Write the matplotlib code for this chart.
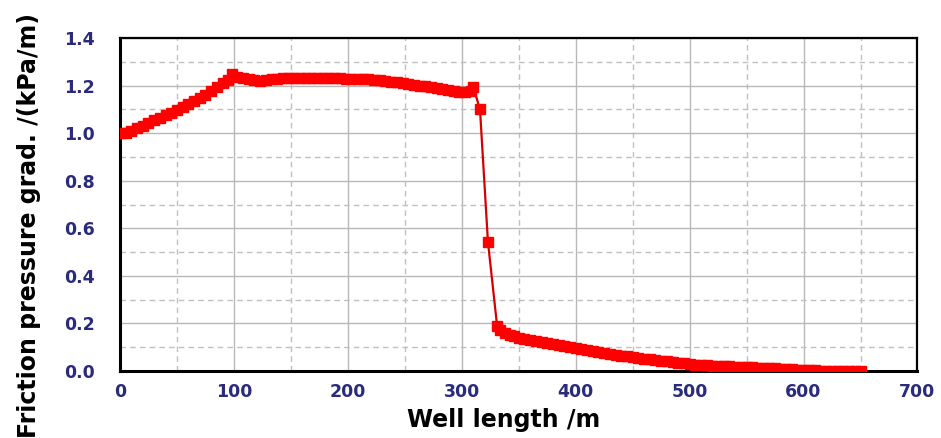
import matplotlib
matplotlib.use('Agg')
import matplotlib.pyplot as plt
from matplotlib.ticker import MultipleLocator

# well length (m) and friction pressure gradient (kPa/m)
length = [0, 5, 10, 15, 20, 25, 30, 35, 40, 45, 50, 55, 60, 65, 70, 75, 80, 85, 90, 95,
          98,
          103, 108, 113, 118, 123, 128, 133, 138, 143, 148, 153, 158, 163, 168, 173, 178,
          183, 188, 193, 198, 203, 208, 213, 218, 223, 228, 233, 238, 243, 248, 253, 258,
          263, 268, 273, 278, 283, 288, 293, 298, 303, 308,
          310, 316, 323, 331, 334, 338, 342, 346,
          350, 355, 360, 365, 370, 375, 380, 385, 390, 395, 400, 405, 410, 415, 420, 425,
          430, 435, 440, 445, 450, 455, 460, 465, 470, 475, 480, 485, 490, 495, 500, 505,
          510, 515, 520, 525, 530, 535, 540, 545, 550, 555, 560, 565, 570, 575, 580, 585,
          590, 595, 600, 605, 610, 615, 620, 625, 630, 635, 640, 645, 650]
grad = [1.000, 1.003, 1.010, 1.020, 1.030, 1.042, 1.055, 1.065, 1.075, 1.085, 1.098, 1.110,
        1.122, 1.135, 1.148, 1.162, 1.178, 1.195, 1.212, 1.225,
        1.250,
        1.238, 1.232, 1.228, 1.224, 1.221, 1.225, 1.228, 1.230, 1.231, 1.231, 1.232, 1.232,
        1.232, 1.232, 1.232, 1.232, 1.232, 1.231, 1.231, 1.230, 1.229, 1.228, 1.227, 1.226,
        1.224, 1.222, 1.220, 1.217, 1.214, 1.211, 1.208, 1.204, 1.200, 1.197, 1.193, 1.189,
        1.184, 1.180, 1.176, 1.173, 1.172, 1.176,
        1.196, 1.100, 0.542, 0.190, 0.172, 0.160, 0.152, 0.146,
        0.140, 0.136, 0.132, 0.128, 0.123, 0.118, 0.113, 0.109, 0.104, 0.100, 0.096, 0.092,
        0.088, 0.084, 0.080, 0.076, 0.072, 0.069, 0.065, 0.062, 0.058, 0.055, 0.052, 0.049,
        0.046, 0.043, 0.040, 0.037, 0.034, 0.032, 0.029, 0.027, 0.025, 0.024, 0.022, 0.021,
        0.020, 0.019, 0.018, 0.017, 0.016, 0.015, 0.014, 0.013, 0.012, 0.011, 0.009, 0.008,
        0.007, 0.006, 0.005, 0.004, 0.003, 0.002, 0.002, 0.001, 0.001, 0.001, 0.000, 0.000,
        0.000]

tick_color = '#2b2b7d'

fig = plt.figure(figsize=(9.41, 4.38), dpi=100)
ax = fig.add_axes([0.1275, 0.153, 0.8475, 0.760])

ax.plot(length, grad, color='#d40000', lw=1.6, marker='s', ms=6.5,
        mfc='#ff0000', mec='#ff0000', zorder=3)

ax.set_xlim(0, 700)
ax.set_ylim(0, 1.4)
ax.xaxis.set_major_locator(MultipleLocator(100))
ax.xaxis.set_minor_locator(MultipleLocator(50))
ax.yaxis.set_major_locator(MultipleLocator(0.2))
ax.yaxis.set_minor_locator(MultipleLocator(0.1))
ax.yaxis.set_major_formatter(plt.FuncFormatter(lambda v, p: '%.1f' % v))

ax.grid(which='major', color='#b8b8b8', lw=1.0, ls='-')
ax.grid(which='minor', color='#c0c0c0', lw=1.0, ls=(0, (4, 3)))
ax.set_axisbelow(True)

ax.tick_params(which='both', length=0)
ax.tick_params(axis='x', pad=9)
ax.tick_params(axis='y', pad=18)
for lab in ax.get_xticklabels() + ax.get_yticklabels():
    lab.set_fontsize(12.5)
    lab.set_fontweight('bold')
    lab.set_color(tick_color)

for side in ['left', 'bottom']:
    ax.spines[side].set_linewidth(2.2)
for side in ['top', 'right']:
    ax.spines[side].set_linewidth(1.6)

fig.text(0.535, 0.040, 'Well length /m', fontsize=17, fontweight='bold',
         ha='center', va='center')
fig.text(0.031, 0.486, 'Friction pressure grad. /(kPa/m)', rotation=90,
         fontsize=17, fontweight='bold', ha='center', va='center')

fig.savefig('out.png', dpi=100)
